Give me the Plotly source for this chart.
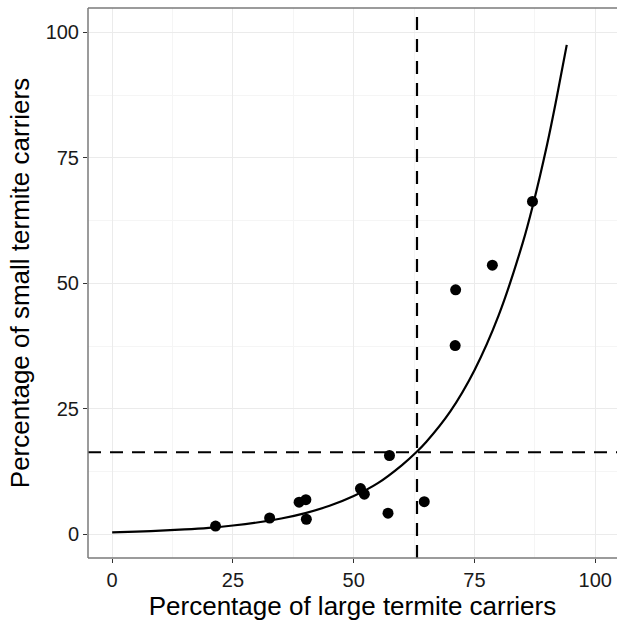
import plotly.graph_objects as go

# Observed points (percentage of large vs small termite carriers)
large_pct = [21.4, 32.6, 38.7, 40.1, 40.2, 51.4, 52.2, 57.4, 57.1, 64.6, 71.0, 71.1, 78.7, 87.0]
small_pct = [1.65, 3.25, 6.4, 6.9, 3.0, 9.1, 8.0, 15.7, 4.2, 6.5, 37.6, 48.7, 53.6, 66.3]

# Fitted curve
curve_x = [0, 5, 10, 15, 20, 25, 30, 35, 40, 45, 50, 55, 60, 63, 65, 70, 75, 80, 85, 87, 90, 92, 94.1]
curve_y = [0.40, 0.54, 0.72, 0.97, 1.30, 1.75, 2.35, 3.15, 4.23, 5.68, 7.63, 10.2, 13.8,
           16.4, 18.4, 24.5, 32.7, 43.6, 58.1, 65.2, 77.5, 86.9, 97.5]

# Threshold lines
x_threshold = 63.1
y_threshold = 16.35

x_ticks = [0, 25, 50, 75, 100]
y_ticks = [0, 25, 50, 75, 100]
minor_ticks = [12.5, 37.5, 62.5, 87.5]

fig = go.Figure()
fig.add_trace(go.Scatter(x=curve_x, y=curve_y, mode="lines",
                         line=dict(color="black", width=2.2, shape="spline", smoothing=1),
                         hoverinfo="skip", showlegend=False))
fig.add_trace(go.Scatter(x=large_pct, y=small_pct, mode="markers",
                         marker=dict(color="black", size=11), showlegend=False))

fig.add_hline(y=y_threshold, line=dict(color="black", width=2.2, dash="13px,9px"))
fig.add_vline(x=x_threshold, line=dict(color="black", width=2.2, dash="13px,9px"))

# panel border (left, top, bottom) - right edge falls outside the image
border = "#7a7a7a"
for x0, y0, x1, y1 in [(0, 0, 0, 1), (0, 1, 1, 1), (0, 0, 1, 0)]:
    fig.add_shape(type="line", xref="paper", yref="paper", x0=x0, y0=y0, x1=x1, y1=y1,
                  line=dict(color=border, width=1.5))

grid_major = "#ebebeb"
font_family = "Liberation Sans, Arial, sans-serif"
fig.update_layout(
    width=617, height=624,
    margin=dict(l=88, r=0, t=8, b=66),
    plot_bgcolor="white", paper_bgcolor="white",
    font=dict(family=font_family, color="black"),
    xaxis=dict(range=[-5, 104.5], tickvals=x_ticks, ticktext=[str(v) for v in x_ticks],
               showgrid=True, gridcolor=grid_major, gridwidth=1.2,
               minor=dict(tickvals=minor_ticks, showgrid=True, gridcolor="#f5f5f5", gridwidth=1),
               ticks="outside", ticklen=4, tickwidth=1.2, tickcolor="#333333",
               tickfont=dict(size=20, color="#1a1a1a"), zeroline=False, showline=False,
               title=dict(text="Percentage of large termite carriers", font=dict(size=26), standoff=4)),
    yaxis=dict(range=[-4.72, 104.84], tickvals=y_ticks, ticktext=[str(v) for v in y_ticks],
               showgrid=True, gridcolor=grid_major, gridwidth=1.2,
               minor=dict(tickvals=minor_ticks, showgrid=True, gridcolor="#f5f5f5", gridwidth=1),
               ticks="outside", ticklen=4, tickwidth=1.2, tickcolor="#333333",
               tickfont=dict(size=20, color="#1a1a1a"), zeroline=False, showline=False,
               title=dict(text="Percentage of small termite carriers", font=dict(size=26), standoff=8)),
)

# remove the default page margin so the figure fills the window exactly
fig.write_html("out.html", config={"displayModeBar": False},
               post_script="document.body.style.margin='0';document.body.style.overflow='hidden';")
